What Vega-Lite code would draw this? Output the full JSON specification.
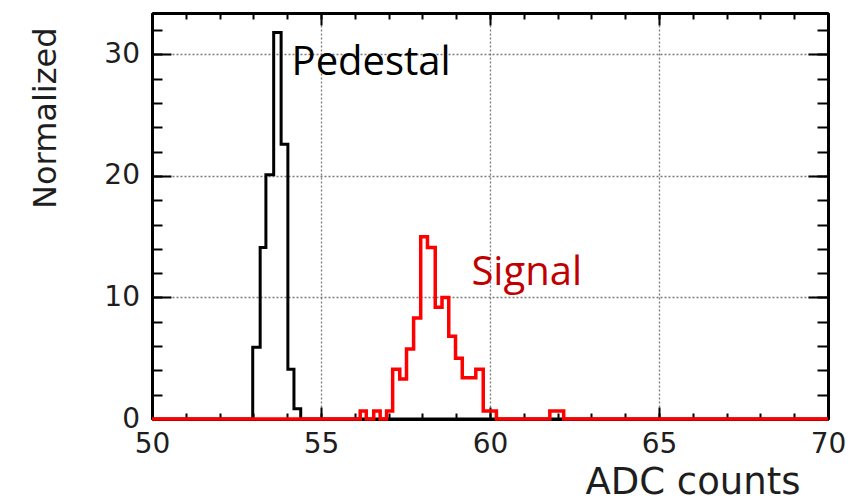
{
  "$schema": "https://vega.github.io/schema/vega-lite/v6.json",
  "autosize": {"type": "none"},
  "width": 676,
  "height": 406,
  "padding": {"left": 152, "top": 13, "right": 28, "bottom": 82},
  "background": "white",
  "config": {
    "view": {"stroke": null},
    "axis": {
      "domainColor": "black",
      "domainWidth": 3,
      "tickColor": "black",
      "tickWidth": 2,
      "labelFont": "DejaVu Sans",
      "labelFontSize": 28,
      "labelColor": "#1e1e1e",
      "titleFont": "DejaVu Sans",
      "titleFontWeight": "normal",
      "titleColor": "#1e1e1e",
      "gridColor": "#7a7a7a",
      "gridDash": [2, 2],
      "gridWidth": 1.3,
      "gridOpacity": 1
    }
  },
  "datasets": {
    "pedestal": [
      {"adc": 50, "norm": 0},
      {"adc": 52.98, "norm": 5.9},
      {"adc": 53.2, "norm": 14.1},
      {"adc": 53.37, "norm": 20.1},
      {"adc": 53.6, "norm": 31.8},
      {"adc": 53.82, "norm": 22.6},
      {"adc": 54.02, "norm": 4.1},
      {"adc": 54.2, "norm": 0.85},
      {"adc": 54.4, "norm": 0},
      {"adc": 70, "norm": 0}
    ],
    "signal": [
      {"adc": 50, "norm": 0},
      {"adc": 56.16, "norm": 0.65},
      {"adc": 56.34, "norm": 0},
      {"adc": 56.56, "norm": 0.65},
      {"adc": 56.75, "norm": 0},
      {"adc": 56.94, "norm": 0.65},
      {"adc": 57.12, "norm": 4.1},
      {"adc": 57.33, "norm": 3.3},
      {"adc": 57.53, "norm": 5.75},
      {"adc": 57.74, "norm": 8.3},
      {"adc": 57.95, "norm": 15.0},
      {"adc": 58.15, "norm": 14.1},
      {"adc": 58.38, "norm": 9.2},
      {"adc": 58.58, "norm": 10.0},
      {"adc": 58.78, "norm": 6.8},
      {"adc": 58.98, "norm": 5.0},
      {"adc": 59.18, "norm": 3.4},
      {"adc": 59.58, "norm": 4.1},
      {"adc": 59.8, "norm": 0.65},
      {"adc": 60.19, "norm": 0},
      {"adc": 61.77, "norm": 0.65},
      {"adc": 62.18, "norm": 0},
      {"adc": 70, "norm": 0}
    ],
    "labels": [
      {"adc": 54.13, "norm": 28.3, "text": "Pedestal", "series": "pedestal"},
      {"adc": 59.45, "norm": 11.05, "text": "Signal", "series": "signal"}
    ]
  },
  "resolve": {"axis": {"x": "independent", "y": "independent"}},
  "layer": [
    {
      "data": {"name": "pedestal"},
      "mark": {"type": "line", "interpolate": "step-after", "color": "black", "strokeWidth": 3},
      "encoding": {
        "x": {
          "field": "adc", "type": "quantitative",
          "scale": {"domain": [50, 70], "nice": false, "zero": false},
          "axis": {
            "orient": "bottom", "values": [50, 55, 60, 65, 70], "tickSize": -12,
            "labelPadding": 23.5, "labelFlush": false, "labelOverlap": false, "grid": true,
            "title": "ADC counts", "titleFontSize": 37, "titleX": 648, "titleY": 74,
            "titleAlign": "right", "titleBaseline": "alphabetic", "titleAnchor": null
          }
        },
        "y": {
          "field": "norm", "type": "quantitative",
          "scale": {"domain": [0, 33.4], "nice": false, "zero": true},
          "axis": {
            "orient": "left", "values": [0, 10, 20, 30], "tickSize": -19,
            "labelPadding": 31.5, "labelFlush": false, "labelOverlap": false, "grid": true,
            "title": "Normalized", "titleFontSize": 32, "titleAngle": -90, "titleX": -97, "titleY": 14,
            "titleAlign": "right", "titleBaseline": "alphabetic", "titleAnchor": null
          }
        }
      }
    },
    {
      "data": {"name": "signal"},
      "mark": {"type": "line", "interpolate": "step-after", "color": "#ff0000", "strokeWidth": 3.5},
      "encoding": {
        "x": {
          "field": "adc", "type": "quantitative",
          "axis": {
            "orient": "bottom", "values": [50, 51, 52, 53, 54, 55, 56, 57, 58, 59, 60, 61, 62, 63, 64, 65, 66, 67, 68, 69, 70],
            "tickSize": -6, "labels": false, "grid": false, "domain": true, "title": null
          }
        },
        "y": {
          "field": "norm", "type": "quantitative",
          "axis": {
            "orient": "left", "values": [0, 2, 4, 6, 8, 10, 12, 14, 16, 18, 20, 22, 24, 26, 28, 30, 32],
            "tickSize": -10, "labels": false, "grid": false, "domain": true, "title": null
          }
        }
      }
    },
    {
      "data": {"name": "labels"},
      "transform": [{"filter": "datum.series === 'pedestal'"}],
      "mark": {"type": "text", "font": "Open Sans", "fontSize": 40, "align": "left", "baseline": "alphabetic", "color": "black"},
      "encoding": {
        "text": {"field": "text"},
        "x": {
          "field": "adc", "type": "quantitative",
          "axis": {
            "orient": "top", "values": [50, 55, 60, 65, 70], "tickSize": -12,
            "labels": false, "grid": false, "domain": true, "title": null
          }
        },
        "y": {
          "field": "norm", "type": "quantitative",
          "axis": {
            "orient": "right", "values": [0, 10, 20, 30], "tickSize": -20,
            "labels": false, "grid": false, "domain": true, "title": null
          }
        }
      }
    },
    {
      "data": {"name": "labels"},
      "transform": [{"filter": "datum.series === 'signal'"}],
      "mark": {"type": "text", "font": "Open Sans", "fontSize": 40, "align": "left", "baseline": "alphabetic", "color": "#c00000"},
      "encoding": {
        "text": {"field": "text"},
        "x": {
          "field": "adc", "type": "quantitative",
          "axis": {
            "orient": "top", "values": [50, 51, 52, 53, 54, 55, 56, 57, 58, 59, 60, 61, 62, 63, 64, 65, 66, 67, 68, 69, 70],
            "tickSize": -6, "labels": false, "grid": false, "domain": true, "title": null
          }
        },
        "y": {
          "field": "norm", "type": "quantitative",
          "axis": {
            "orient": "right", "values": [0, 2, 4, 6, 8, 10, 12, 14, 16, 18, 20, 22, 24, 26, 28, 30, 32],
            "tickSize": -11, "labels": false, "grid": false, "domain": true, "title": null
          }
        }
      }
    }
  ]
}
